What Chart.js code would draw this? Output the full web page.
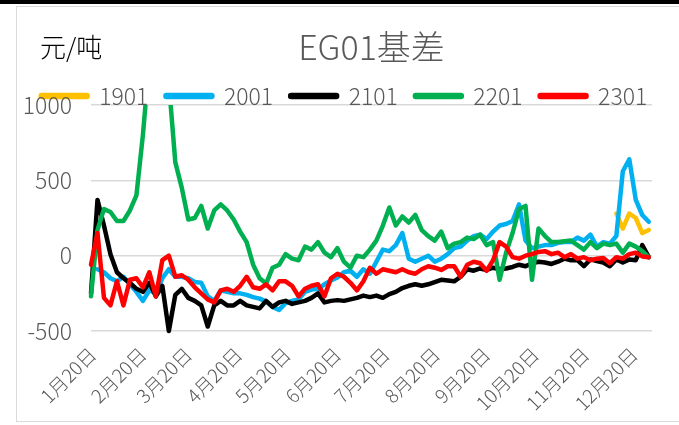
<!DOCTYPE html>
<html>
<head>
<meta charset="utf-8">
<script src="https://cdn.jsdelivr.net/npm/chart.js@4.4.1/dist/chart.umd.min.js"></script>
<style>
  html, body { margin: 0; padding: 0; background: #fff; }
  body { width: 679px; height: 425px; position: relative; overflow: hidden; }
  .topbar { position: absolute; left: 0; top: 0; width: 679px; height: 4px; background: #000; }
  .frame { position: absolute; left: 16px; top: 6px; width: 700px; height: 416px; border: 1px solid #d9d9d9; box-sizing: border-box; }
  #chart { position: absolute; left: 0; top: 0; }
</style>
</head>
<body>
<div class="topbar"></div>
<div class="frame"></div>
<canvas id="chart" width="679" height="425"></canvas>
<script>
const titleText = "EG01基差";
const unitText = "元/吨";

// day of year, sampled every 4 days
const days = [
  19, 23, 27, 31, 35, 39, 43, 47, 51, 55, 59, 63, 67, 71, 75, 79, 83, 87, 91, 95,
  99, 103, 107, 111, 115, 119, 123, 127, 131, 135, 139, 143, 147, 151, 155, 159, 163, 167, 171, 175,
  179, 183, 187, 191, 195, 199, 203, 207, 211, 215, 219, 223, 227, 231, 235, 239, 243, 247, 251, 255,
  259, 263, 267, 271, 275, 279, 283, 287, 291, 295, 299, 303, 307, 311, 315, 319, 323, 327, 331, 335,
  339, 343, 347, 351, 355, 359, 363
];

const tickDays = [20, 51, 79, 110, 140, 171, 201, 232, 263, 293, 324, 354];
const tickLabels = ["1月20日", "2月20日", "3月20日", "4月20日", "5月20日", "6月20日",
  "7月20日", "8月20日", "9月20日", "10月20日", "11月20日", "12月20日"];

const seriesNames = ["1901", "2001", "2101", "2201", "2301"];
const seriesColors = ["#FFC000", "#00B0F0", "#000000", "#00B050", "#FF0000"];

const s1901 = [
  null, null, null, null, null, null, null, null, null, null, null, null, null, null, null, null, null, null, null, null,
  null, null, null, null, null, null, null, null, null, null, null, null, null, null, null, null, null, null, null, null,
  null, null, null, null, null, null, null, null, null, null, null, null, null, null, null, null, null, null, null, null,
  null, null, null, null, null, null, null, null, null, null, null, null, null, null, null, null, null, null, null, null,
  null, 280, 180, 280, 250, 150, 170
];
const s2001 = [
  null, -90, -110, -150, -170, -140, -190, -240, -300, -230, -250, -150, -90, -140, -140, -150, -175, -180, -270, -300,
  -230, -240, -250, -250, -260, -275, -285, -305, -340, -360, -315, -300, -290, -240, -225, -220, -190, -165, -145, -110,
  -100, -140, -90, -120, -40, 40, 30, 70, 150, -20, -40, -20, 0, -40, -20, 10, 50, 60, 100, 130,
  140, 110, 160, 200, 210, 230, 340, 100, 50, 60, 70, 70, 85, 90, 90, 120, 100, 140, 60, 90,
  80, 130, 560, 640, 370, 270, 225
];
const s2101 = [
  -250, 370, 200, 10, -110, -150, -180, -220, -240, -180, -270, -200, -500, -260, -220, -280, -300, -330, -470, -330,
  -300, -330, -330, -300, -330, -340, -350, -300, -340, -310, -300, -320, -310, -300, -280, -250, -310, -300, -295, -300,
  -290, -280, -265, -275, -265, -280, -255, -240, -215, -200, -190, -200, -190, -175, -160, -165, -170, -140, -90, -100,
  -85, -95, -80, -90, -85, -75, -60, -70, -50, -40, -45, -55, -40, -20, -30, -30, -70, -25, -35, -45,
  -70, -25, -45, -25, -30, 70, -10
];
const s2201 = [
  -270, 170, 310, 290, 230, 230, 300, 400, 800, 1300, 1500, 1400, 1150, 620, 450, 240, 250, 330, 180, 300,
  340, 300, 240, 160, 90, -60, -150, -185, -80, -60, 10, -20, -30, 60, 40, 90, 20, -10, 50, -40,
  -80, 0, -10, 40, 100, 200, 320, 200, 260, 220, 270, 170, 130, 100, 160, 50, 80, 90, 120, 110,
  140, 70, 90, -160, 20, 150, 310, 330, -160, 180, 130, 90, 90, 95, 100, 70, 40, 90, 50, 80,
  70, 80, 20, 80, 60, 30, -10
];
const s2301 = [
  -60, 150, -280, -330, -170, -330, -160, -150, -210, -110, -270, -30, 0, -140, -130, -160, -210, -250, -290, -310,
  -230, -220, -240, -200, -140, -210, -220, -190, -230, -170, -170, -200, -270, -220, -200, -190, -270, -150, -120, -140,
  -180, -230, -170, -80, -120, -90, -100, -110, -90, -110, -120, -90, -70, -80, -95, -70, -70, -140, -60, -40,
  -50, -100, -30, 90, 60, -10, -20, 0, 10, 25, 30, 10, 20, -10, 10, -20, -10, -30, -20, -15,
  -50, -10, -20, 10, 20, -5, -10
];

const allSeries = [s1901, s2001, s2101, s2201, s2301];

const FONT = "'Noto Sans CJK SC', 'Noto Sans', sans-serif";
Chart.defaults.font.family = FONT;
Chart.defaults.color = "#595959";

const nudge = {
  id: "nudge",
  afterLayout(chart) {
    const t = chart.titleBlock;
    if (t) { t.top += 12.4; t.bottom += 12.4; }
    const lg = chart.legend;
    if (lg) { lg.top += 12.5; lg.bottom += 12.5; lg.left += 18; lg.right += 18; }
  }
};

const unitLabel = {
  id: "unitLabel",
  afterDraw(chart) {
    const ctx = chart.ctx;
    ctx.save();
    ctx.font = "300 26px " + FONT;
    ctx.fillStyle = "#000";
    ctx.textBaseline = "middle";
    ctx.textAlign = "left";
    ctx.fillText(unitText, 40, 47);
    ctx.restore();
  }
};

const datasets = seriesNames.map((name, k) => ({
  label: name,
  data: days.map((d, i) => ({ x: d, y: allSeries[k][i] })),
  borderColor: seriesColors[k],
  backgroundColor: seriesColors[k],
  borderWidth: 4.5,
  borderJoinStyle: "round",
  borderCapStyle: "round",
  pointRadius: 0,
  tension: 0,
  order: seriesNames.length - k,
  clip: { left: 4, right: 4, top: 0, bottom: 4 }
}));

new Chart(document.getElementById("chart"), {
  type: "line",
  data: { datasets },
  options: {
    responsive: false,
    devicePixelRatio: 1,
    animation: false,
    layout: { padding: { top: 14.2, left: 0, right: 27, bottom: 0 } },
    plugins: {
      title: {
        display: true,
        text: titleText,
        fullSize: false,
        color: "#595959",
        font: { size: 34, weight: "300" },
        padding: 0
      },
      legend: {
        display: true,
        position: "top",
        labels: {
          boxWidth: 47,
          boxHeight: 2,
          useBorderRadius: true,
          borderRadius: 1,
          padding: 17,
          color: "#595959",
          font: { size: 23, weight: "300" },
          sort: (a, b) => a.datasetIndex - b.datasetIndex
        }
      },
      tooltip: { enabled: false }
    },
    scales: {
      x: {
        type: "linear",
        min: 19,
        max: 365,
        afterBuildTicks: (scale) => {
          scale.ticks = tickDays.map((v) => ({ value: v }));
        },
        afterFit: (scale) => { scale.height = 94; },
        grid: { display: false },
        border: { display: false },
        ticks: {
          autoSkip: false,
          minRotation: 45,
          maxRotation: 45,
          padding: 4,
          color: "#595959",
          font: { size: 19, weight: "300" },
          callback: (val) => {
            const idx = tickDays.indexOf(val);
            return idx >= 0 ? tickLabels[idx] : "";
          }
        }
      },
      y: {
        min: -500,
        max: 1000,
        afterFit: (scale) => { scale.width = 91; },
        grid: { color: "#d9d9d9", lineWidth: 1.5, drawTicks: false },
        border: { display: false },
        ticks: {
          stepSize: 500,
          padding: 19,
          color: "#595959",
          font: { size: 23, weight: "300" },
          callback: (val) => String(val)
        }
      }
    }
  },
  plugins: [nudge, unitLabel]
});
</script>
</body>
</html>
